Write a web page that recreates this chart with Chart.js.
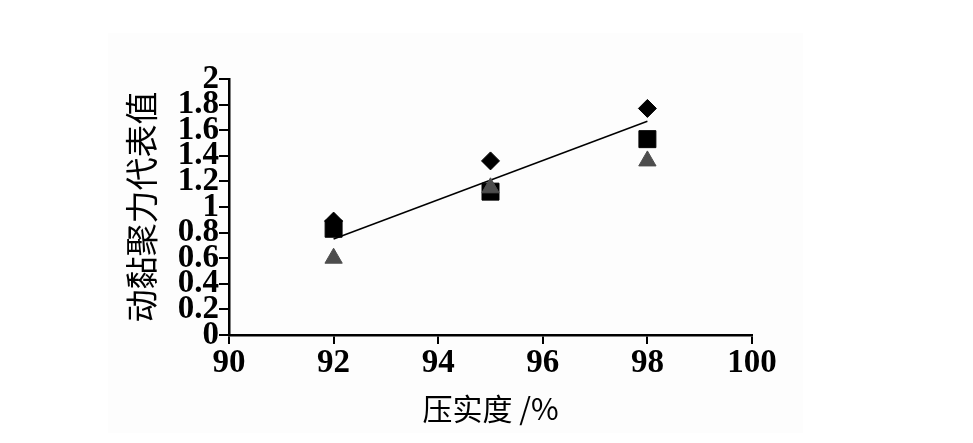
<!DOCTYPE html>
<html>
<head>
<meta charset="utf-8">
<script src="https://cdn.jsdelivr.net/npm/chart.js@4.4.1/dist/chart.umd.min.js"></script>
<style>
  html, body { margin: 0; padding: 0; background: #ffffff; }
  #wrap { position: relative; width: 973px; height: 443px; }
  #paper { position: absolute; left: 108px; top: 33px; width: 695px; height: 400px; background: #fdfdfd; }
  #chart { position: absolute; left: 0; top: 0; }
</style>
</head>
<body>
<div id="wrap">
  <div id="paper"></div>
  <canvas id="chart" width="973" height="443"></canvas>
</div>
<script>
// --- Data ---
const compaction = [92, 95, 98];
const seriesDiamond = [0.89, 1.36, 1.77];
const seriesSquare = [0.83, 1.12, 1.53];
const seriesTriangle = [0.60, 1.15, 1.36];
const trendX = [92, 98];
const trendY = [0.75, 1.67];
const xTickLabels = ['90', '92', '94', '96', '98', '100'];
const yTickLabels = ['0', '0.2', '0.4', '0.6', '0.8', '1', '1.2', '1.4', '1.6', '1.8', '2'];

const toPoints = (xs, ys) => xs.map((x, i) => ({ x: x, y: ys[i] }));

const tickFont = { family: '"Liberation Serif", "DejaVu Serif", serif', size: 33, weight: 'bold' };
const cjkFont = '"Noto Sans CJK SC", "Liberation Serif", serif';

new Chart(document.getElementById('chart').getContext('2d'), {
    type: 'scatter',
    data: {
        datasets: [
            {
                label: 'triangle',
                data: toPoints(compaction, seriesTriangle),
                pointStyle: 'triangle',
                pointRadius: 10,
                backgroundColor: '#4d4d4d',
                borderColor: '#4d4d4d',
                borderWidth: 1,
                order: 1
            },
            {
                label: 'square',
                data: toPoints(compaction, seriesSquare),
                pointStyle: 'rect',
                pointRadius: 12,
                backgroundColor: '#000000',
                borderColor: '#000000',
                borderWidth: 1,
                order: 2
            },
            {
                label: 'diamond',
                data: toPoints(compaction, seriesDiamond),
                pointStyle: 'rectRot',
                pointRadius: 9,
                backgroundColor: '#000000',
                borderColor: '#000000',
                borderWidth: 1,
                order: 3
            },
            {
                type: 'line',
                label: 'trend',
                data: toPoints(trendX, trendY),
                borderColor: '#000000',
                borderWidth: 1.5,
                pointRadius: 0,
                fill: false,
                order: 4
            }
        ]
    },
    options: {
        responsive: false,
        animation: false,
        layout: { padding: { left: 0, top: 79, right: 221, bottom: 0 } },
        plugins: {
            legend: { display: false },
            tooltip: { enabled: false }
        },
        scales: {
            x: {
                type: 'linear',
                min: 90,
                max: 100,
                afterFit: (scale) => { scale.height = 108; },
                border: { display: true, color: '#000000', width: 2.5 },
                grid: { drawOnChartArea: false, drawTicks: true, tickLength: 9, color: '#000000', lineWidth: 2 },
                ticks: {
                    stepSize: 2,
                    padding: 0,
                    color: '#000000',
                    font: tickFont,
                    callback: (v, i) => xTickLabels[i]
                },
                title: {
                    display: true,
                    text: '压实度 /%',
                    color: '#000000',
                    font: { family: cjkFont, size: 30 },
                    padding: { top: 0, bottom: 16 }
                }
            },
            y: {
                type: 'linear',
                min: 0,
                max: 2,
                afterFit: (scale) => { scale.width = 229; },
                border: { display: true, color: '#000000', width: 2.5 },
                grid: { drawOnChartArea: false, drawTicks: true, tickLength: 10, color: '#000000', lineWidth: 2 },
                ticks: {
                    stepSize: 0.2,
                    padding: 0,
                    autoSkip: false,
                    color: '#000000',
                    font: tickFont,
                    callback: (v, i) => yTickLabels[i]
                },
                title: {
                    display: true,
                    text: '动黏聚力代表值',
                    color: '#000000',
                    font: { family: cjkFont, size: 33 },
                    padding: { top: 122, bottom: 0 }
                }
            }
        }
    }
});
</script>
</body>
</html>
